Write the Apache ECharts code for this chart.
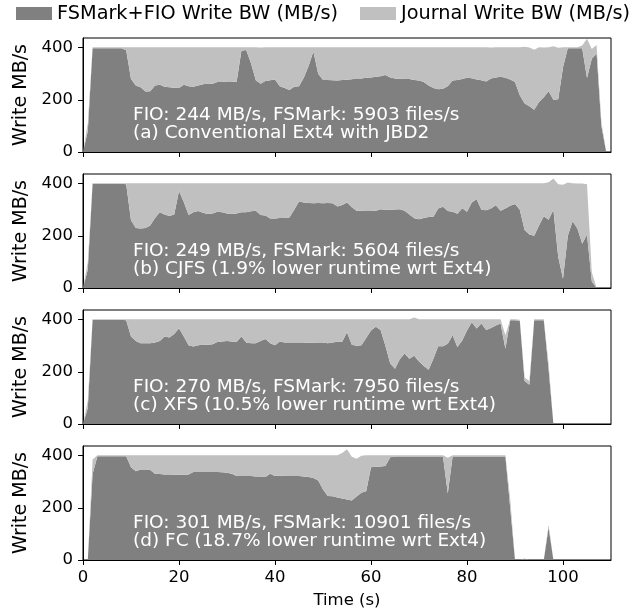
<!DOCTYPE html>
<html>
<head>
<meta charset="utf-8">
<script src="https://cdn.jsdelivr.net/npm/echarts@6/dist/echarts.min.js"></script>
<style>
  html, body { margin: 0; padding: 0; background: #fff; }
  #chart { width: 630px; height: 613px; }
</style>
</head>
<body>
<div id="chart"></div>
<script>
// one sample per second, index = time (s)
const fioA = [
  0, 80, 398, 398, 398, 398, 398, 398, 398, 390,
  280, 255, 248, 232, 233, 255, 258, 250, 248, 246,
  245, 258, 252, 250, 255, 260, 263, 262, 268, 268,
  270, 270, 268, 388, 391, 340, 275, 262, 272, 275,
  278, 252, 245, 238, 250, 252, 285, 330, 385, 300,
  276, 276, 275, 274, 276, 277, 279, 282, 282, 285,
  286, 288, 290, 295, 286, 282, 281, 280, 280, 276,
  274, 268, 255, 245, 241, 242, 252, 274, 276, 280,
  285, 283, 278, 275, 270, 282, 286, 288, 285, 278,
  268, 218, 186, 175, 162, 192, 210, 233, 200, 202,
  325, 398, 398, 398, 398, 284, 357, 378, 100, 0
];
const totalA = [
  0, 110, 402, 402, 402, 402, 402, 402, 402, 402,
  402, 402, 402, 402, 402, 402, 402, 402, 402, 402,
  402, 402, 402, 402, 402, 402, 402, 402, 402, 402,
  402, 402, 402, 402, 402, 402, 402, 401, 402, 402,
  402, 402, 402, 402, 402, 402, 402, 402, 402, 402,
  402, 402, 402, 402, 402, 402, 402, 402, 402, 402,
  402, 402, 402, 402, 402, 402, 402, 402, 402, 402,
  402, 402, 402, 402, 402, 402, 402, 402, 402, 402,
  402, 402, 402, 402, 402, 401, 402, 402, 402, 402,
  402, 402, 403, 401, 392, 402, 401, 402, 405, 400,
  402, 402, 402, 402, 408, 434, 395, 410, 115, 0
];

const fioB = [
  0, 70, 400, 400, 400, 400, 400, 400, 400, 398,
  260, 230, 228, 230, 240, 268, 290, 282, 276, 282,
  372, 330, 280, 290, 295, 288, 284, 286, 292, 290,
  286, 284, 286, 290, 290, 294, 296, 280, 278, 266,
  266, 268, 268, 270, 300, 332, 328, 326, 325, 326,
  325, 326, 325, 312, 318, 328, 310, 296, 296, 295,
  295, 296, 302, 300, 300, 301, 302, 296, 282, 267,
  264, 268, 272, 273, 305, 311, 295, 292, 285, 306,
  292, 328, 340, 300, 298, 305, 317, 296, 305, 315,
  322, 300, 222, 205, 200, 240, 275, 262, 300, 120,
  35, 200, 256, 228, 170, 205, 25, 0
];
const totalB = [
  0, 100, 402, 402, 402, 402, 402, 402, 402, 402,
  402, 402, 402, 402, 402, 402, 402, 402, 402, 402,
  402, 402, 402, 402, 402, 402, 402, 402, 402, 402,
  402, 402, 402, 402, 402, 402, 402, 402, 402, 402,
  402, 402, 402, 402, 402, 402, 402, 402, 402, 402,
  402, 402, 402, 402, 402, 402, 402, 402, 402, 402,
  402, 402, 402, 402, 402, 402, 402, 402, 402, 402,
  402, 402, 402, 402, 402, 402, 402, 402, 402, 402,
  402, 402, 402, 402, 402, 402, 402, 402, 402, 402,
  402, 402, 402, 402, 402, 402, 402, 405, 420, 398,
  396, 404, 402, 401, 401, 398, 60, 0
];

const fioC = [
  0, 60, 400, 400, 400, 400, 400, 400, 400, 398,
  335, 318, 310, 310, 310, 312, 318, 335, 332, 345,
  367, 335, 302, 297, 302, 304, 304, 306, 314, 316,
  318, 316, 314, 335, 312, 310, 310, 318, 326, 310,
  302, 316, 312, 312, 312, 312, 312, 311, 311, 312,
  312, 310, 312, 315, 315, 352, 304, 300, 302, 330,
  358, 373, 360, 300, 232, 212, 248, 270, 250, 262,
  240, 222, 208, 250, 298, 298, 308, 340, 295, 320,
  358, 390, 366, 385, 360, 368, 378, 385, 288, 398,
  398, 396, 165, 150, 398, 398, 398, 210, 0
];
const totalC = [
  0, 90, 402, 402, 402, 402, 402, 402, 402, 402,
  402, 402, 402, 402, 402, 402, 402, 402, 402, 402,
  402, 402, 402, 402, 402, 402, 402, 402, 402, 402,
  402, 402, 402, 402, 402, 402, 402, 402, 402, 402,
  402, 402, 402, 402, 402, 402, 402, 402, 402, 402,
  402, 402, 402, 402, 402, 402, 402, 402, 402, 402,
  402, 402, 402, 402, 402, 402, 402, 402, 402, 408,
  402, 402, 402, 402, 402, 402, 402, 402, 402, 402,
  402, 402, 402, 402, 402, 402, 402, 402, 340, 402,
  402, 400, 178, 165, 402, 402, 402, 232, 0
];

const fioD = [
  0, 0, 330, 398, 398, 398, 398, 398, 398, 398,
  356, 340, 347, 347, 345, 331, 330, 328, 328, 327,
  327, 327, 328, 337, 337, 337, 337, 337, 337, 336,
  334, 331, 322, 322, 322, 322, 320, 320, 318, 331,
  322, 324, 322, 322, 322, 322, 320, 318, 314, 305,
  270, 245, 244, 240, 236, 232, 228, 243, 258, 264,
  356, 357, 358, 360, 394, 397, 397, 397, 397, 397,
  397, 397, 397, 397, 397, 397, 255, 397, 397, 397,
  397, 397, 397, 397, 397, 397, 397, 397, 397, 200,
  0, 0, 4, 0, 0, 0, 0, 125, 0
];
const totalD = [
  0, 0, 385, 402, 402, 402, 402, 402, 402, 402,
  402, 402, 402, 402, 402, 402, 402, 402, 402, 402,
  402, 402, 402, 402, 402, 402, 402, 402, 402, 402,
  402, 402, 402, 402, 402, 402, 402, 402, 402, 402,
  402, 402, 402, 402, 402, 402, 402, 402, 402, 402,
  402, 402, 402, 402, 410, 425, 396, 388, 400, 402,
  402, 402, 402, 402, 402, 402, 402, 402, 402, 402,
  402, 402, 402, 402, 402, 402, 392, 402, 402, 402,
  402, 402, 402, 402, 402, 402, 402, 402, 402, 235,
  0, 0, 6, 0, 0, 0, 0, 135, 0
];

const notes = [
  ['FIO: 244 MB/s, FSMark: 5903 files/s', '(a) Conventional Ext4 with JBD2'],
  ['FIO: 249 MB/s, FSMark: 5604 files/s', '(b) CJFS (1.9% lower runtime wrt Ext4)'],
  ['FIO: 270 MB/s, FSMark: 7950 files/s', '(c) XFS (10.5% lower runtime wrt Ext4)'],
  ['FIO: 301 MB/s, FSMark: 10901 files/s', '(d) FC (18.7% lower runtime wrt Ext4)']
];
// time axis runs 0..110 s, labelled every 20 s
const seconds = Array.from({ length: 111 }, (_, k) => String(k));
const X_STEP = 20;
const yTicks = [0, 200, 400];

const FONT = 'DejaVu Sans';
const DARK = '#808080';
const LIGHT = '#c0c0c0';
const NAME_FIO = 'FSMark+FIO Write BW (MB/s)';
const NAME_J = 'Journal Write BW (MB/s)';

const panels = [
  [fioA, totalA], [fioB, totalB], [fioC, totalC], [fioD, totalD]
];

const grid = [], xAxis = [], yAxis = [], series = [], graphic = [];
const everyStep = (idx) => idx % X_STEP === 0;

panels.forEach(([fio, total], i) => {
  const top = 38 + i * 136;
  const last = i === panels.length - 1;
  grid.push({
    left: 83, top: top, width: 528, height: 114,
    show: true, borderColor: '#000', borderWidth: 1
  });
  xAxis.push({
    type: 'category', gridIndex: i, data: seconds, boundaryGap: false,
    axisLine: { show: true, onZero: false, lineStyle: { color: '#000', width: 1 } },
    axisTick: { show: true, length: 5, interval: everyStep, lineStyle: { color: '#000' } },
    axisLabel: { show: last, interval: everyStep, margin: 9, color: '#000', fontFamily: FONT, fontSize: 16.5 },
    splitLine: { show: false },
    name: last ? 'Time (s)' : '',
    nameLocation: 'middle', nameGap: 32,
    nameTextStyle: { color: '#000', fontFamily: FONT, fontSize: 16.5 }
  });
  yAxis.push({
    type: 'value', gridIndex: i, min: 0, max: 437,
    axisLine: { show: true, lineStyle: { color: '#000', width: 1 } },
    axisTick: { show: true, length: 5, customValues: yTicks, lineStyle: { color: '#000' } },
    axisLabel: { customValues: yTicks, margin: 10, color: '#000', fontFamily: FONT, fontSize: 16.5 },
    splitLine: { show: false },
    name: 'Write MB/s', nameLocation: 'middle', nameGap: 46,
    nameTextStyle: { color: '#000', fontFamily: FONT, fontSize: 19 }
  });
  series.push({
    name: NAME_FIO, type: 'line', xAxisIndex: i, yAxisIndex: i, stack: 'bw' + i,
    data: fio,
    symbol: 'none', color: DARK,
    lineStyle: { width: 0 },
    areaStyle: { color: DARK, opacity: 1 }
  });
  series.push({
    name: NAME_J, type: 'line', xAxisIndex: i, yAxisIndex: i, stack: 'bw' + i,
    data: total.map((v, k) => Math.max(0, v - fio[k])),
    symbol: 'none', color: LIGHT,
    lineStyle: { width: 0 },
    areaStyle: { color: LIGHT, opacity: 1 }
  });
  notes[i].forEach((line, j) => {
    graphic.push({
      type: 'text', x: 133, y: top + 77 + j * 18, z: 100,
      style: {
        text: line, fill: '#fff', font: '18.5px "DejaVu Sans"',
        align: 'left', verticalAlign: 'middle'
      }
    });
  });
});

const chart = echarts.init(document.getElementById('chart'));
chart.setOption({
  animation: false,
  backgroundColor: '#fff',
  legend: {
    data: [NAME_FIO, NAME_J],
    left: 16, top: 4, width: 640, padding: 0,
    icon: 'rect', itemWidth: 36, itemHeight: 13, itemGap: 22,
    textStyle: { color: '#000', fontFamily: FONT, fontSize: 19.3 }
  },
  grid: grid,
  xAxis: xAxis,
  yAxis: yAxis,
  series: series,
  graphic: graphic
});
</script>
</body>
</html>
